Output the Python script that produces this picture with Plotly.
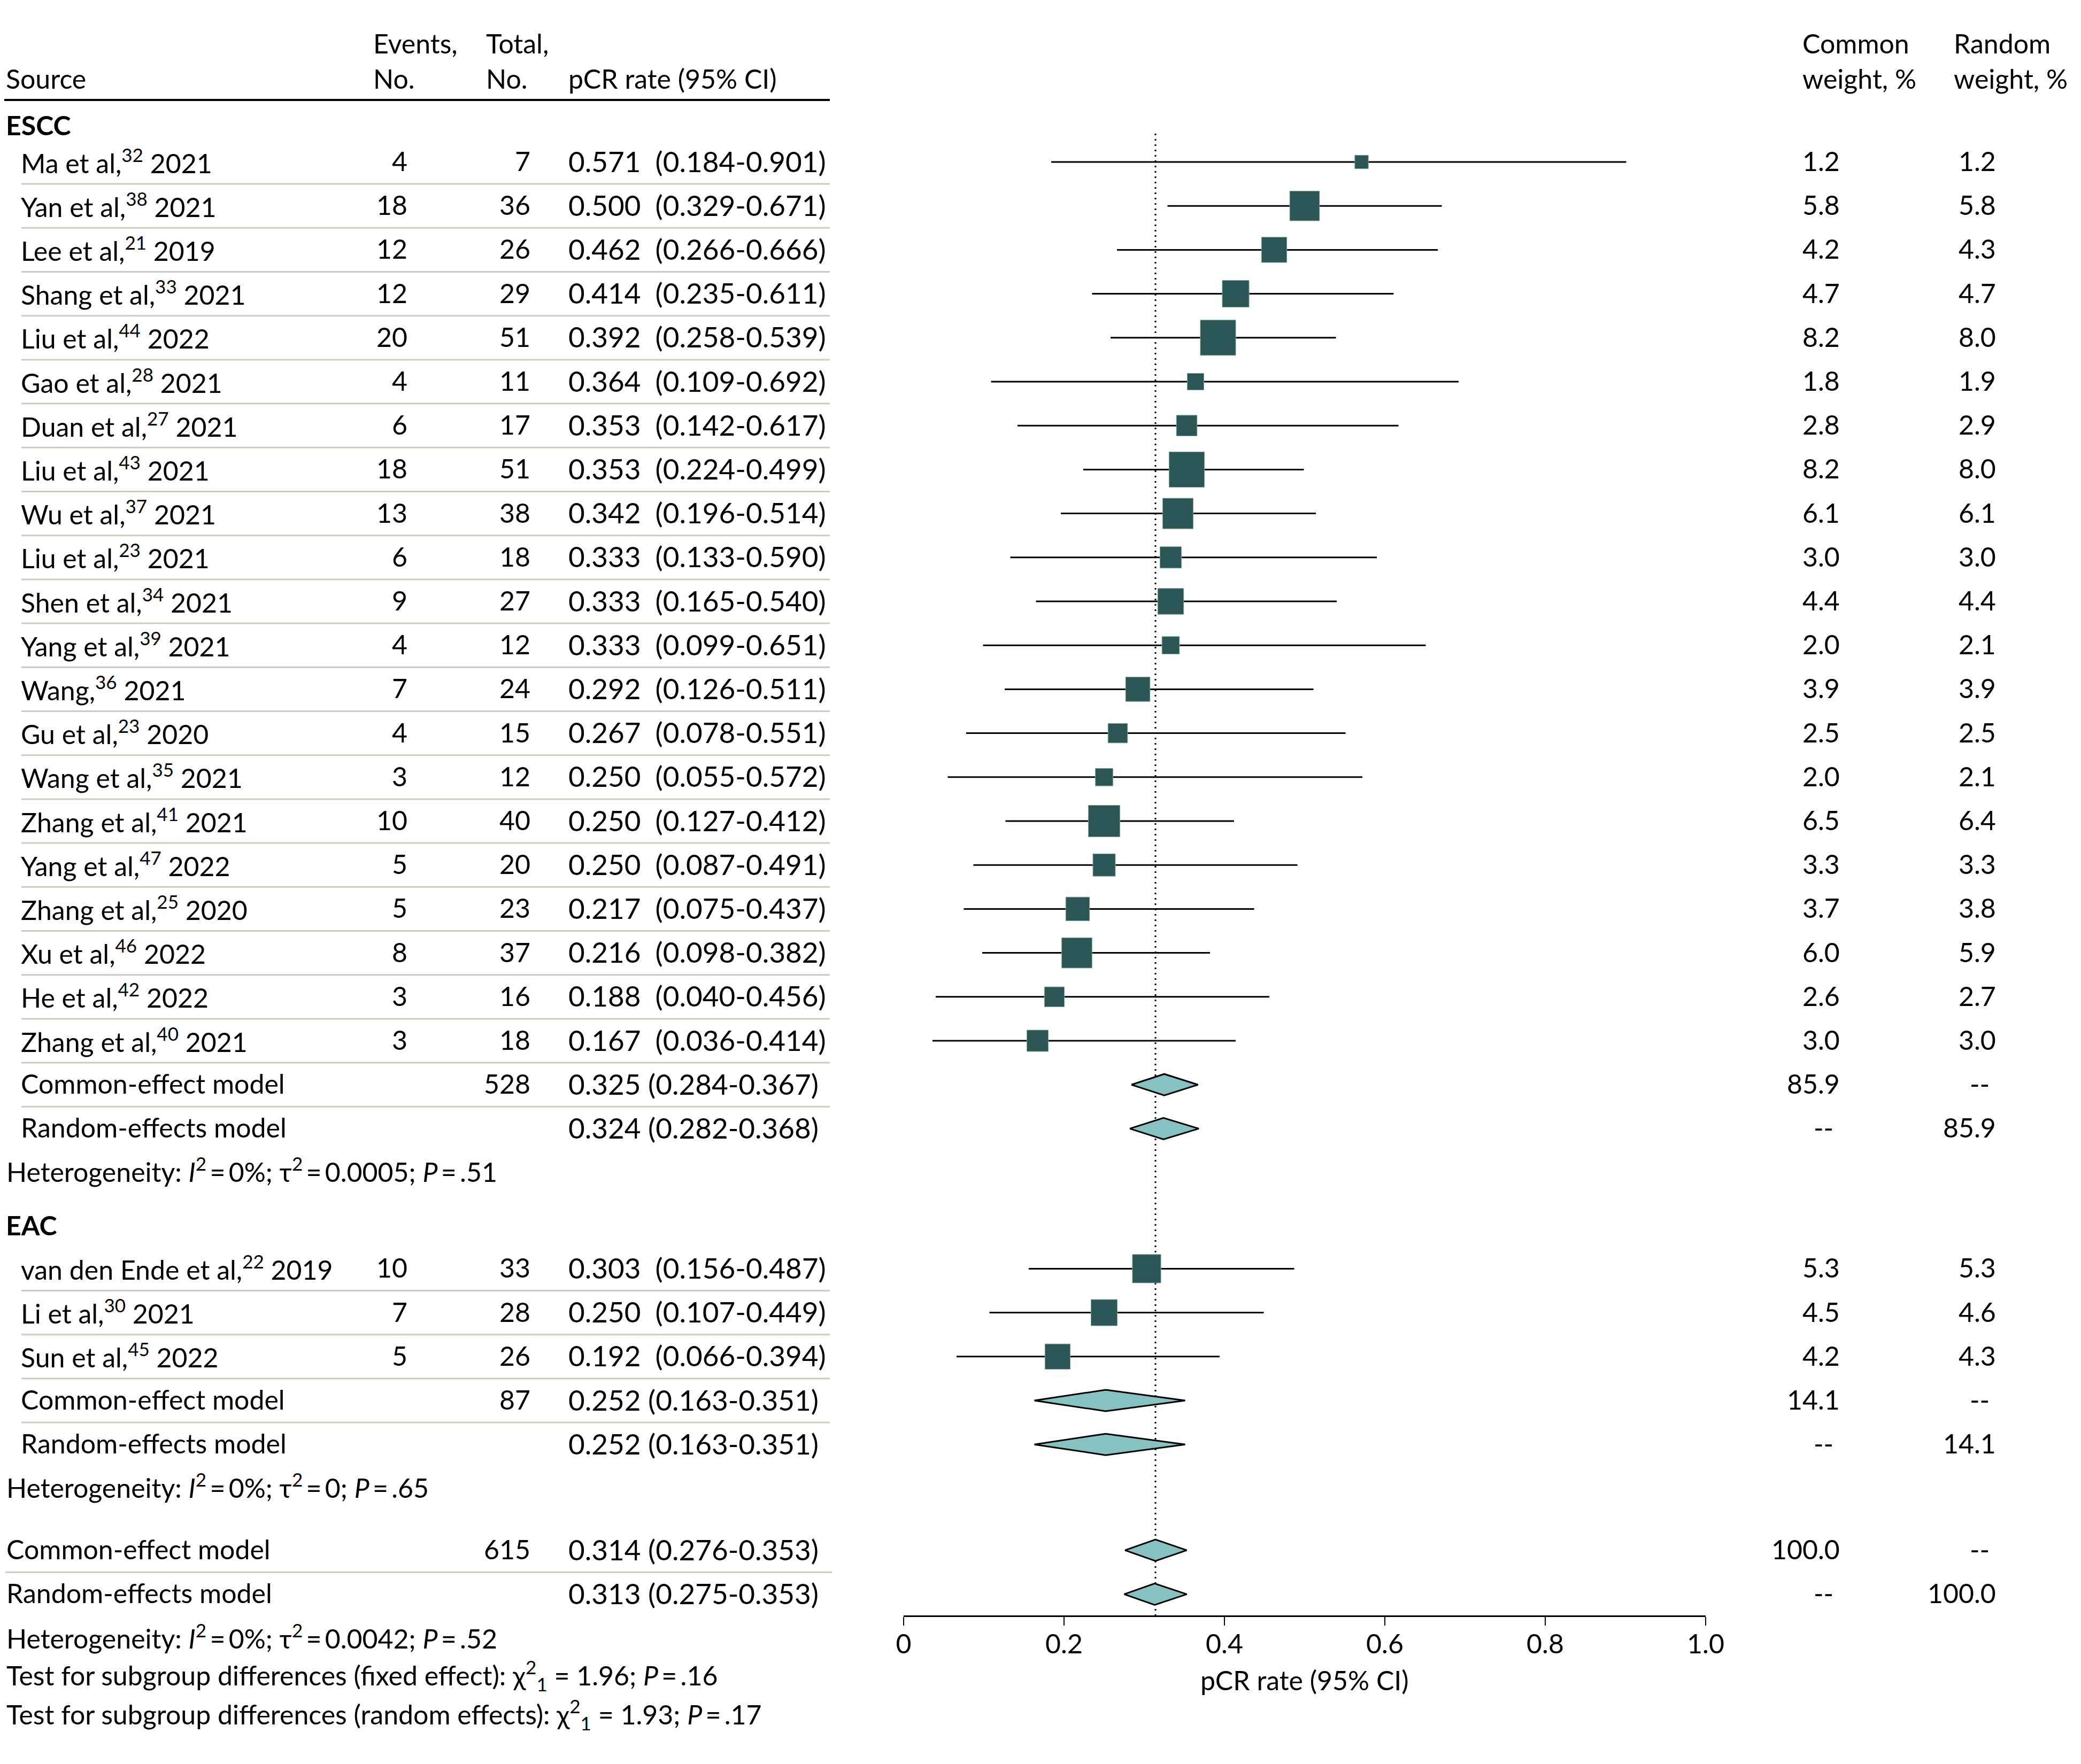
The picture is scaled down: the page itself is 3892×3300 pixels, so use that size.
import math
import plotly.graph_objects as go

# ---- ESCC studies ----
escc_author = ["Ma et al", "Yan et al", "Lee et al", "Shang et al", "Liu et al", "Gao et al",
               "Duan et al", "Liu et al", "Wu et al", "Liu et al", "Shen et al", "Yang et al",
               "Wang", "Gu et al", "Wang et al", "Zhang et al", "Yang et al", "Zhang et al",
               "Xu et al", "He et al", "Zhang et al"]
escc_ref = [32, 38, 21, 33, 44, 28, 27, 43, 37, 23, 34, 39, 36, 23, 35, 41, 47, 25, 46, 42, 40]
escc_year = [2021, 2021, 2019, 2021, 2022, 2021, 2021, 2021, 2021, 2021, 2021, 2021,
             2021, 2020, 2021, 2021, 2022, 2020, 2022, 2022, 2021]
escc_events = [4, 18, 12, 12, 20, 4, 6, 18, 13, 6, 9, 4, 7, 4, 3, 10, 5, 5, 8, 3, 3]
escc_total = [7, 36, 26, 29, 51, 11, 17, 51, 38, 18, 27, 12, 24, 15, 12, 40, 20, 23, 37, 16, 18]
escc_rate = [0.571, 0.500, 0.462, 0.414, 0.392, 0.364, 0.353, 0.353, 0.342, 0.333, 0.333,
             0.333, 0.292, 0.267, 0.250, 0.250, 0.250, 0.217, 0.216, 0.188, 0.167]
escc_lower = [0.184, 0.329, 0.266, 0.235, 0.258, 0.109, 0.142, 0.224, 0.196, 0.133, 0.165,
              0.099, 0.126, 0.078, 0.055, 0.127, 0.087, 0.075, 0.098, 0.040, 0.036]
escc_upper = [0.901, 0.671, 0.666, 0.611, 0.539, 0.692, 0.617, 0.499, 0.514, 0.590, 0.540,
              0.651, 0.511, 0.551, 0.572, 0.412, 0.491, 0.437, 0.382, 0.456, 0.414]
escc_w_common = [1.2, 5.8, 4.2, 4.7, 8.2, 1.8, 2.8, 8.2, 6.1, 3.0, 4.4, 2.0, 3.9, 2.5, 2.0,
                 6.5, 3.3, 3.7, 6.0, 2.6, 3.0]
escc_w_random = [1.2, 5.8, 4.3, 4.7, 8.0, 1.9, 2.9, 8.0, 6.1, 3.0, 4.4, 2.1, 3.9, 2.5, 2.1,
                 6.4, 3.3, 3.8, 5.9, 2.7, 3.0]
escc_pooled_total = 528
escc_common = [0.325, 0.284, 0.367]
escc_random = [0.324, 0.282, 0.368]
escc_pooled_weight = 85.9
escc_het = ["0%", "0.0005", ".51"]

# ---- EAC studies ----
eac_author = ["van den Ende et al", "Li et al", "Sun et al"]
eac_ref = [22, 30, 45]
eac_year = [2019, 2021, 2022]
eac_events = [10, 7, 5]
eac_total = [33, 28, 26]
eac_rate = [0.303, 0.250, 0.192]
eac_lower = [0.156, 0.107, 0.066]
eac_upper = [0.487, 0.449, 0.394]
eac_w_common = [5.3, 4.5, 4.2]
eac_w_random = [5.3, 4.6, 4.3]
eac_pooled_total = 87
eac_common = [0.252, 0.163, 0.351]
eac_random = [0.252, 0.163, 0.351]
eac_pooled_weight = 14.1
eac_het = ["0%", "0", ".65"]

# ---- overall ----
all_pooled_total = 615
all_common = [0.314, 0.276, 0.353]
all_random = [0.313, 0.275, 0.353]
all_pooled_weight = 100.0
all_het = ["0%", "0.0042", ".52"]
subgroup_chi2 = [1.96, 1.93]
subgroup_p = [".16", ".17"]

x_ticks = [0, 0.2, 0.4, 0.6, 0.8, 1.0]
x_ticktext = ["0", "0.2", "0.4", "0.6", "0.8", "1.0"]

# ---- layout (pixels of the 3892x3300 page; body has an 8px margin) ----
W, H = 3892, 3300
OFF = 8
FW, FH = W - OFF, H - OFF
FONT = "Lato"
FS = 50
FS_CI = 53
X0_PX, X1_PX = 1690, 3190
AXIS_Y = 3023
STEP = 82.2
X_SRC, X_IND, X_EV, X_TOT, X_RATE = 10, 38, 763, 993, 1062
X_WC, X_WR = 3442, 3734
SQUARE_K = 23.1
DIAMOND_H = 20
SQ_COLOR = "#2B5655"
DIA_COLOR = "#86C2C1"
SEP_COLOR = "#C9CDBF"

fig = go.Figure()
annotations = []
shapes = []


def px(x):
    return (x - OFF) / FW


def txt(x, y, s, anchor="left", size=FS, xshift=0):
    annotations.append(dict(x=px(x), y=y, xref="paper", yref="y", text=s, showarrow=False,
                            xanchor=anchor, yanchor="middle", borderpad=0,
                            font=dict(family=FONT, size=size, color="black"),
                            xshift=xshift, yshift=2))


def sep(y, x_left=40, x_right=1552):
    shapes.append(dict(type="line", xref="paper", yref="y", x0=px(x_left), x1=px(x_right),
                       y0=y, y1=y, line=dict(color=SEP_COLOR, width=3)))


def ci_text(est, lo, hi, gap="\u00a0 "):
    return f"{est:.3f}{gap}({lo:.3f}-{hi:.3f})"


def het_text(vals):
    i2, tau2, p = vals
    return (f"Heterogeneity: <i>I</i><sup>2</sup>\u2009=\u2009{i2}; "
            f"τ<sup>2</sup>\u2009=\u2009{tau2}; <i>P</i>\u2009=\u2009{p}")


# header
txt(X_SRC, 149, "Source")
txt(697, 83, "Events,")
txt(697, 149, "No.")
txt(908, 83, "Total,")
txt(908, 149, "No.")
txt(X_RATE, 149, "pCR rate (95% CI)")
txt(3370, 83, "Common")
txt(3370, 149, "weight, %")
txt(3653, 83, "Random")
txt(3653, 149, "weight, %")
shapes.append(dict(type="line", xref="paper", yref="y", x0=px(OFF), x1=px(1552), y0=187, y1=187,
                   line=dict(color="black", width=4)))

ci_x, ci_y = [], []
sq_x, sq_y, sq_size = [], [], []
dia_x, dia_y = [], []


def diamond(vals, y):
    est, lo, hi = vals
    dia_x.extend([lo, est, hi, est, lo, None])
    dia_y.extend([y, y - DIAMOND_H, y, y + DIAMOND_H, y, None])


def group(label, label_y, first_y, author, ref, year, events, total, rate, lower, upper,
          wc, wr, pooled_total, common, random, pooled_w, het):
    txt(X_SRC, label_y, f"<b>{label}</b>")
    ys = [first_y + STEP * i for i in range(len(author))]
    for i, y in enumerate(ys):
        txt(X_IND, y, f"{author[i]},<sup>{ref[i]}</sup> {year[i]}")
        txt(X_EV, y, str(events[i]), anchor="right")
        txt(X_TOT, y, str(total[i]), anchor="right")
        txt(X_RATE, y, ci_text(rate[i], lower[i], upper[i]), size=FS_CI)
        txt(X_WC, y, f"{wc[i]:.1f}", anchor="right")
        txt(X_WR, y, f"{wr[i]:.1f}", anchor="right")
        sep(y + STEP / 2)
        ci_x.extend([lower[i], upper[i], None])
        ci_y.extend([y, y, None])
        sq_x.append(rate[i])
        sq_y.append(y)
        sq_size.append(SQUARE_K * math.sqrt(wc[i]))
    yc = ys[-1] + STEP
    yr = yc + STEP
    txt(X_IND, yc, "Common-effect model")
    txt(X_TOT, yc, str(pooled_total), anchor="right")
    txt(X_RATE, yc, ci_text(*common, gap=" "), size=FS_CI)
    txt(X_WC, yc, f"{pooled_w:.1f}", anchor="right")
    txt(X_WR, yc, "--", anchor="right", xshift=-12)
    sep(yc + STEP / 2)
    txt(X_IND, yr, "Random-effects model")
    txt(X_RATE, yr, ci_text(*random, gap=" "), size=FS_CI)
    txt(X_WC, yr, "--", anchor="right", xshift=-12)
    txt(X_WR, yr, f"{pooled_w:.1f}", anchor="right")
    diamond(common, yc)
    diamond(random, yr)
    txt(11, yr + 79, het_text(het))
    return yr + 79


het1 = group("ESCC", 236, 303, escc_author, escc_ref, escc_year, escc_events, escc_total,
             escc_rate, escc_lower, escc_upper, escc_w_common, escc_w_random,
             escc_pooled_total, escc_common, escc_random, escc_pooled_weight, escc_het)
het2 = group("EAC", het1 + 104, het1 + 183, eac_author, eac_ref, eac_year, eac_events,
             eac_total, eac_rate, eac_lower, eac_upper, eac_w_common, eac_w_random,
             eac_pooled_total, eac_common, eac_random, eac_pooled_weight, eac_het)

# overall
yc = het2 + 119
yr = yc + STEP
txt(11, yc, "Common-effect model")
txt(X_TOT, yc, str(all_pooled_total), anchor="right")
txt(X_RATE, yc, ci_text(*all_common, gap=" "), size=FS_CI)
txt(X_WC, yc, f"{all_pooled_weight:.1f}", anchor="right")
txt(X_WR, yc, "--", anchor="right", xshift=-12)
sep(yc + STEP / 2, x_left=10, x_right=1556)
txt(11, yr, "Random-effects model")
txt(X_RATE, yr, ci_text(*all_random, gap=" "), size=FS_CI)
txt(X_WC, yr, "--", anchor="right", xshift=-12)
txt(X_WR, yr, f"{all_pooled_weight:.1f}", anchor="right")
diamond(all_common, yc)
diamond(all_random, yr)
yh = yr + 81
txt(11, yh, het_text(all_het))
txt(11, yh + 73, "Test for subgroup differences (fixed effect): χ<sup>2</sup><sub>1</sub> = "
    f"{subgroup_chi2[0]:.2f}; <i>P</i>\u2009=\u2009{subgroup_p[0]}")
txt(11, yh + 146, "Test for subgroup differences (random effects): χ<sup>2</sup><sub>1</sub> = "
    f"{subgroup_chi2[1]:.2f}; <i>P</i>\u2009=\u2009{subgroup_p[1]}")

# dotted reference line at the overall common estimate
shapes.append(dict(type="line", xref="x", yref="y", x0=all_common[0], x1=all_common[0],
                   y0=250, y1=AXIS_Y, line=dict(color="black", width=3, dash="3px,7px"),
                   layer="below"))

fig.add_trace(go.Scatter(x=ci_x, y=ci_y, mode="lines", line=dict(color="black", width=3),
                         hoverinfo="skip", showlegend=False))
fig.add_trace(go.Scatter(x=sq_x, y=sq_y, mode="markers",
                         marker=dict(symbol="square", size=sq_size, color=SQ_COLOR, opacity=1,
                                     line=dict(color="#7FA3A1", width=1)),
                         showlegend=False))
fig.add_trace(go.Scatter(x=dia_x, y=dia_y, mode="lines", fill="toself", fillcolor=DIA_COLOR,
                         line=dict(color="black", width=3), hoverinfo="skip",
                         showlegend=False))

txt((X0_PX + X1_PX) / 2, 3145, "pCR rate (95% CI)", anchor="center")

fig.update_layout(
    width=FW, height=FH, margin=dict(l=0, r=0, t=0, b=0, pad=0, autoexpand=False),
    paper_bgcolor="white", plot_bgcolor="white",
    font=dict(family=FONT, size=FS, color="black"),
    xaxis=dict(domain=[px(X0_PX), px(X1_PX)], range=[0, 1], anchor="free",
               position=1 - (AXIS_Y - OFF) / FH, showgrid=False, zeroline=False,
               showline=True, linecolor="black", linewidth=3,
               ticks="outside", ticklen=16, tickwidth=2, tickcolor="black",
               tickvals=x_ticks, ticktext=x_ticktext, ticklabelstandoff=-8,
               tickfont=dict(family=FONT, size=FS, color="black")),
    yaxis=dict(domain=[0, 1], range=[H, OFF], visible=False),
    annotations=annotations, shapes=shapes,
)

fig.write_html("out.html")
